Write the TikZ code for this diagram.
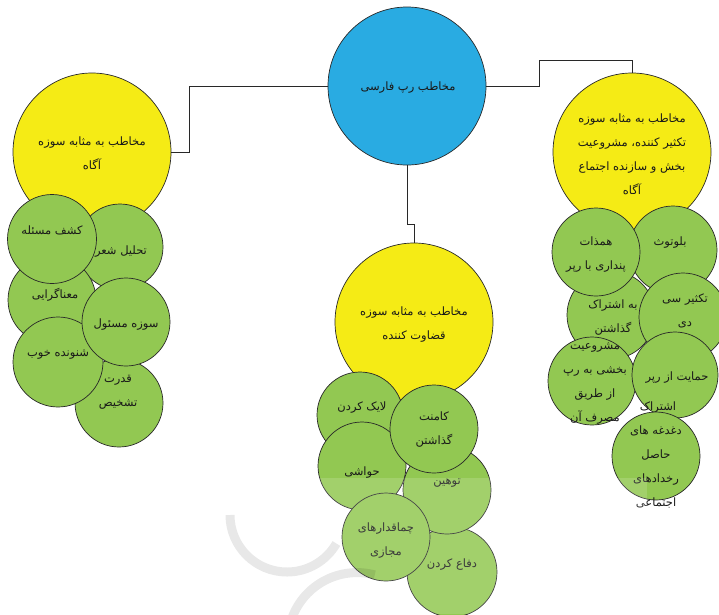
\documentclass[tikz,border=0pt]{standalone}
\usepackage{fontspec}
\newfontfamily\fa[Script=Arabic]{DejaVu Sans}
\TeXXeTstate=1
\newcommand{\rl}[1]{\beginR #1\endR}
\definecolor{cblue}{RGB}{41,171,226}
\definecolor{cyel}{RGB}{245,235,21}
\definecolor{cgreen}{RGB}{146,200,82}
\definecolor{cline}{RGB}{40,40,40}
\tikzset{
  circ/.style={circle, draw=cline, line width=0.7pt, inner sep=0pt, minimum size=88pt},
  gcirc/.style={circ, fill=cgreen},
  ycirc/.style={circ, fill=cyel, minimum size=158pt},
  bcirc/.style={circ, fill=cblue, minimum size=158pt},
  txt/.style={font={\fa\fontsize{11.5pt}{24pt}\selectfont}, align=center, inner sep=0pt, text=black!90},
  conn/.style={draw=cline, line width=0.7pt},
  wm/.style={draw=black, opacity=0.09, line width=9pt}
}
\begin{document}
\begin{tikzpicture}[x=1pt,y=-1pt]
\useasboundingbox (0,0) rectangle (719,614);

% main nodes
\node[bcirc] (blue) at (407,86) {};
\node[txt] (tblue) at (408,88) {\rl{مخاطب رپ فارسی}};

\node[ycirc] (yl) at (92,152) {};
\node[txt] (tyl) at (92,153) {\rl{مخاطب به مثابه سوزه}\\\rl{آگاه}};

\node[ycirc] (yc) at (414,322) {};
\node[txt] (tyc) at (414,325) {\rl{مخاطب به  مثابه سوزه}\\\rl{قضاوت کننده}};

\node[ycirc] (yr) at (632,152) {};
\node[txt] (tyr) at (632,154) {\rl{مخاطب به مثابه سوزه}\\\rl{تکثیر کننده، مشروعیت}\\\rl{بخش و سازنده اجتماع}\\\rl{آگاه}};

% connectors
\draw[conn] (blue.west) -- ++(-138,0) |- (yl.east);
\draw[conn] (blue.east) -- ++(53,0) -- ++(0,-26) -| (yr.north);
\draw[conn] (blue.south) -- ++(0,59) -| (yc.north);

% left cluster
\node[gcirc, minimum size=86pt] (l1) at (120,247) {};
\node[txt] (tl1) at (121,252) {\rl{تحلیل شعر}};
\node[gcirc] (l2) at (52,300) {};
\node[txt] (tl2) at (55,295) {\rl{معناگرایی}};
\node[gcirc] (l3) at (119,403) {};
\node[txt] (tl3) at (118,392) {\rl{قدرت}\\\rl{تشخیص}};
\node[gcirc, minimum size=89pt] (l4) at (52,239) {};
\node[txt] (tl4) at (52,230) {\rl{کشف مسئله}};
\node[gcirc, minimum size=90pt] (l5) at (58,362) {};
\node[txt] (tl5) at (58,355) {\rl{شنونده خوب}};
\node[gcirc] (l6) at (126,322) {};
\node[txt] (tl6) at (126,325) {\rl{سوزه مسئول}};

% center cluster
\node[gcirc, minimum size=86pt] (c1) at (360,415) {};
\node[txt] (tc1) at (362,408) {\rl{لایک کردن}};
\node[gcirc] (c2) at (362,466) {};
\node[txt] (tc2) at (362,473) {\rl{حواشی}};
\node[gcirc, minimum size=90pt] (c3) at (452,572) {};
\node[txt] (tc3) at (452,565) {\rl{دفاع کردن}};
\node[gcirc] (c4) at (447,490) {};
\node[txt] (tc4) at (447,483) {\rl{توهین}};
\node[gcirc] (c5) at (434,429) {};
\node[txt] (tc5) at (434,430) {\rl{کامنت}\\\rl{گذاشتن}};
\node[gcirc] (c6) at (386,537) {};
\node[txt] (tc6) at (386,541) {\rl{چماقدارهای}\\\rl{مجازی}};

% right cluster
\node[gcirc] (r1) at (673,250) {};
\node[txt] (tr1) at (670,243) {\rl{بلوتوث}};
\node[gcirc] (r2) at (611,315) {};
\node[txt] (tr2) at (613,318) {\rl{به اشتراک}\\\rl{گذاشتن}};
\node[gcirc] (r3) at (596,252) {};
\node[txt] (tr3) at (596,255) {\rl{همذات}\\\rl{پنداری با رپر}};
\node[gcirc] (r4) at (683,317) {};
\node[txt] (tr4) at (685,311) {\rl{تکثیر سی}\\\rl{دی}};
\node[gcirc] (r5) at (592,381) {};
\node[txt] (tr5) at (595,384) {\rl{مشروعیت}\\\rl{بخشی به رپ}\\\rl{از طریق}\\\rl{مصرف آن}};
\node[gcirc, minimum size=86pt] (r6) at (675,375) {};
\node[txt] (tr6) at (677,378) {\rl{حمایت از رپر}};
\node[txt] (tr6b) at (658,408) {\rl{اشتراک}};
\node[gcirc] (r7) at (656,456) {};
\node[txt] (tr7) at (656,467) {\rl{دغدغه های}\\\rl{حاصل}\\\rl{رخدادهای}\\\rl{اجتماعی}};

% faint watermark
\fill[white, opacity=0.15] (100,478) rectangle (647,614);
\draw[wm] (230,515) arc[start angle=180, end angle=30, radius=57];
\draw[wm] (292,618) arc[start angle=200, end angle=285, radius=69];
\end{tikzpicture}
\end{document}
